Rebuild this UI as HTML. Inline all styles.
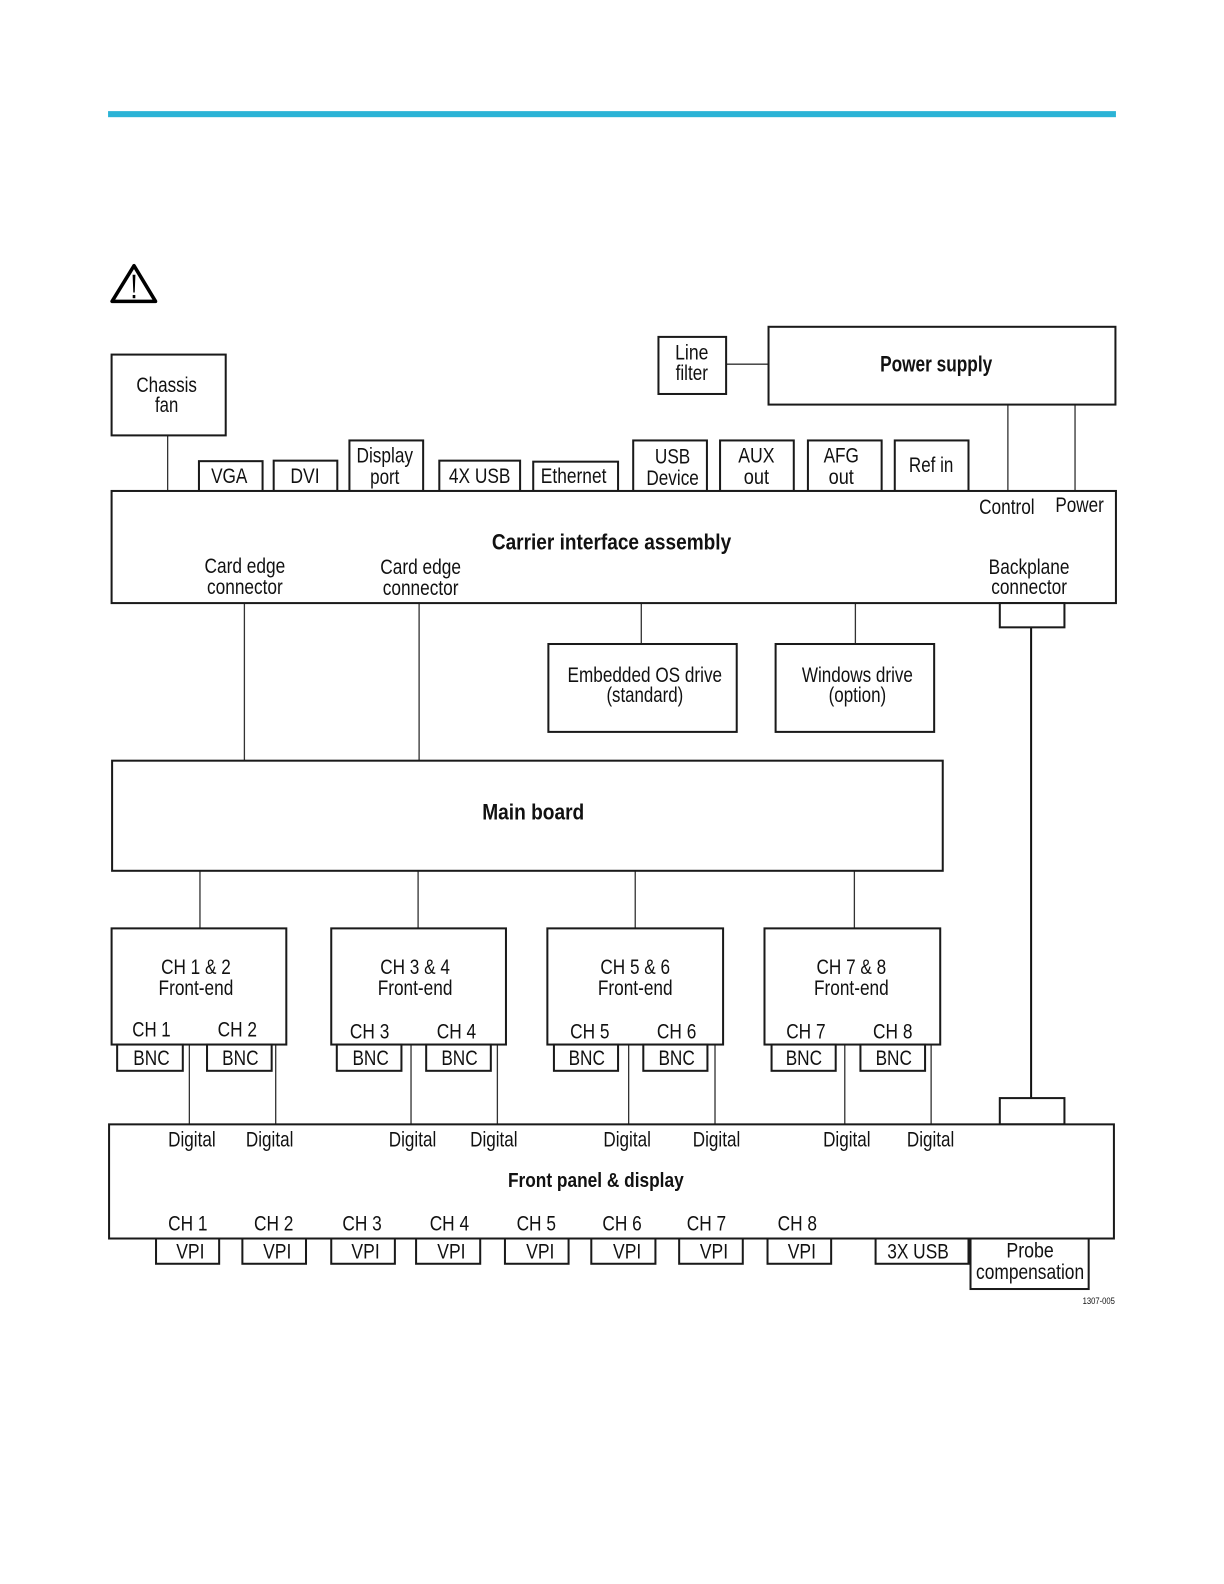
<!DOCTYPE html>
<html>
<head>
<meta charset="utf-8">
<style>
html,body{margin:0;padding:0;background:#fff}
svg{display:block}
text{font-family:"Liberation Sans",sans-serif;font-size:21px;fill:#111;text-anchor:middle}
.b{font-weight:bold;font-size:22px}
rect{fill:#fff;stroke:#1a1a1a;stroke-width:2}
line{stroke:#333;stroke-width:1.3}
</style>
</head>
<body>
<svg width="1224" height="1584" viewBox="0 0 1212 1568" preserveAspectRatio="none" xmlns="http://www.w3.org/2000/svg">
<rect x="107" y="110" width="998" height="6" style="fill:#2bb3d6;stroke:none"/>

<!-- warning icon -->
<polygon points="132.700,263 111,298.300 154,298.300" fill="none" stroke="#000" stroke-width="3.500" stroke-linejoin="round"/>
<polygon points="131.300,272 134.100,272 133.400,289.500 132,289.500" fill="#000"/>
<rect x="131.400" y="292" width="2.600" height="3.200" style="fill:#000;stroke:none"/>

<!-- connectors -->
<line x1="166" y1="431" x2="166" y2="486"/>
<line x1="719" y1="360.500" x2="761" y2="360.500"/>
<line x1="998" y1="400" x2="998" y2="486"/>
<line x1="1064.500" y1="400" x2="1064.500" y2="486"/>
<line x1="242" y1="597" x2="242" y2="753"/>
<line x1="415" y1="597" x2="415" y2="753"/>
<line x1="635" y1="597" x2="635" y2="637"/>
<line x1="847" y1="597" x2="847" y2="637"/>
<line x1="1021" y1="621" x2="1021" y2="1087" style="stroke:#111;stroke-width:2"/>
<line x1="198" y1="862" x2="198" y2="919"/>
<line x1="414" y1="862" x2="414" y2="919"/>
<line x1="629" y1="862" x2="629" y2="919"/>
<line x1="846" y1="862" x2="846" y2="919"/>
<line x1="187.500" y1="1034" x2="187.500" y2="1113"/>
<line x1="273" y1="1034" x2="273" y2="1113"/>
<line x1="407" y1="1034" x2="407" y2="1113"/>
<line x1="492.500" y1="1034" x2="492.500" y2="1113"/>
<line x1="622.500" y1="1034" x2="622.500" y2="1113"/>
<line x1="708" y1="1034" x2="708" y2="1113"/>
<line x1="836.500" y1="1034" x2="836.500" y2="1113"/>
<line x1="922" y1="1034" x2="922" y2="1113"/>

<!-- top boxes -->
<rect x="110.500" y="351" width="113" height="80"/>
<rect x="652" y="333.500" width="67" height="56.500"/>
<rect x="761" y="323.500" width="343.500" height="77"/>
<rect x="197" y="456.500" width="63" height="30"/>
<rect x="271" y="456" width="63" height="30"/>
<rect x="346" y="436" width="73" height="50"/>
<rect x="435" y="456" width="80" height="30"/>
<rect x="528" y="457" width="84" height="29"/>
<rect x="627" y="436" width="73" height="50"/>
<rect x="713" y="436" width="73" height="50"/>
<rect x="800" y="436" width="73" height="50"/>
<rect x="886" y="436" width="73" height="50"/>

<!-- carrier -->
<rect x="110.500" y="486" width="994.500" height="111"/>
<rect x="990" y="597" width="64" height="24"/>
<rect x="543" y="637.500" width="186.500" height="87"/>
<rect x="768" y="637.500" width="157" height="87"/>
<rect x="111" y="753" width="822.500" height="109"/>

<!-- front-ends -->
<rect x="110.500" y="919" width="173" height="115"/>
<rect x="328" y="919" width="173" height="115"/>
<rect x="542" y="919" width="174" height="115"/>
<rect x="757" y="919" width="174" height="115"/>
<rect x="116" y="1034" width="65" height="26"/>
<rect x="205" y="1034" width="64" height="26"/>
<rect x="333.500" y="1034" width="64" height="26"/>
<rect x="422" y="1034" width="64" height="26"/>
<rect x="548.500" y="1034" width="63.500" height="26"/>
<rect x="637" y="1034" width="63.500" height="26"/>
<rect x="764" y="1034" width="63.500" height="26"/>
<rect x="852" y="1034" width="64" height="26"/>

<!-- front panel -->
<rect x="990" y="1087" width="64" height="26"/>
<rect x="108" y="1113" width="995" height="113"/>
<rect x="154.500" y="1226" width="62.500" height="25"/>
<rect x="240" y="1226" width="63" height="25"/>
<rect x="328" y="1226" width="63" height="25"/>
<rect x="412" y="1226" width="63.500" height="25"/>
<rect x="500" y="1226" width="63" height="25"/>
<rect x="585.500" y="1226" width="63.500" height="25"/>
<rect x="672.500" y="1226" width="63" height="25"/>
<rect x="760" y="1226" width="63" height="25"/>
<rect x="867" y="1226" width="92" height="25"/>
<rect x="961" y="1226" width="117" height="50"/>

<!-- labels -->
<g>
<text x="165" y="388" textLength="60" lengthAdjust="spacingAndGlyphs">Chassis</text>
<text x="165" y="408" textLength="23" lengthAdjust="spacingAndGlyphs">fan</text>
<text x="685" y="356" textLength="33" lengthAdjust="spacingAndGlyphs">Line</text>
<text x="685" y="376" textLength="32" lengthAdjust="spacingAndGlyphs">filter</text>
<text class="b" x="927" y="368" textLength="111" lengthAdjust="spacingAndGlyphs">Power supply</text>
<text x="227" y="478" textLength="36" lengthAdjust="spacingAndGlyphs">VGA</text>
<text x="302" y="478" textLength="29" lengthAdjust="spacingAndGlyphs">DVI</text>
<text x="381" y="458" textLength="56" lengthAdjust="spacingAndGlyphs">Display</text>
<text x="381" y="479" textLength="29" lengthAdjust="spacingAndGlyphs">port</text>
<text x="475" y="478" textLength="61" lengthAdjust="spacingAndGlyphs">4X USB</text>
<text x="568" y="478" textLength="65" lengthAdjust="spacingAndGlyphs">Ethernet</text>
<text x="666" y="459" textLength="35" lengthAdjust="spacingAndGlyphs">USB</text>
<text x="666" y="480" textLength="52" lengthAdjust="spacingAndGlyphs">Device</text>
<text x="749" y="458" textLength="36" lengthAdjust="spacingAndGlyphs">AUX</text>
<text x="749" y="479" textLength="25" lengthAdjust="spacingAndGlyphs">out</text>
<text x="833" y="458" textLength="35" lengthAdjust="spacingAndGlyphs">AFG</text>
<text x="833" y="479" textLength="25" lengthAdjust="spacingAndGlyphs">out</text>
<text x="922" y="467" textLength="44" lengthAdjust="spacingAndGlyphs">Ref in</text>
<text x="997" y="509" textLength="55" lengthAdjust="spacingAndGlyphs">Control</text>
<text x="1069" y="507" textLength="48" lengthAdjust="spacingAndGlyphs">Power</text>
<text class="b" x="605.500" y="544" textLength="237" lengthAdjust="spacingAndGlyphs">Carrier interface assembly</text>
<text x="242.500" y="567" textLength="80" lengthAdjust="spacingAndGlyphs">Card edge</text>
<text x="242.500" y="588" textLength="75" lengthAdjust="spacingAndGlyphs">connector</text>
<text x="416.500" y="568" textLength="80" lengthAdjust="spacingAndGlyphs">Card edge</text>
<text x="416.500" y="589" textLength="75" lengthAdjust="spacingAndGlyphs">connector</text>
<text x="1019" y="568" textLength="80" lengthAdjust="spacingAndGlyphs">Backplane</text>
<text x="1019" y="588" textLength="75" lengthAdjust="spacingAndGlyphs">connector</text>
<text x="638.500" y="675" textLength="153" lengthAdjust="spacingAndGlyphs">Embedded OS drive</text>
<text x="638.500" y="695" textLength="76" lengthAdjust="spacingAndGlyphs">(standard)</text>
<text x="849" y="675" textLength="110" lengthAdjust="spacingAndGlyphs">Windows drive</text>
<text x="849" y="695" textLength="57" lengthAdjust="spacingAndGlyphs">(option)</text>
<text class="b" x="528" y="811" textLength="101" lengthAdjust="spacingAndGlyphs">Main board</text>

<text x="194" y="964" textLength="69" lengthAdjust="spacingAndGlyphs">CH 1 &amp; 2</text>
<text x="194" y="985" textLength="74" lengthAdjust="spacingAndGlyphs">Front-end</text>
<text x="411" y="964" textLength="69" lengthAdjust="spacingAndGlyphs">CH 3 &amp; 4</text>
<text x="411" y="985" textLength="74" lengthAdjust="spacingAndGlyphs">Front-end</text>
<text x="629" y="964" textLength="69" lengthAdjust="spacingAndGlyphs">CH 5 &amp; 6</text>
<text x="629" y="985" textLength="74" lengthAdjust="spacingAndGlyphs">Front-end</text>
<text x="843" y="964" textLength="69" lengthAdjust="spacingAndGlyphs">CH 7 &amp; 8</text>
<text x="843" y="985" textLength="74" lengthAdjust="spacingAndGlyphs">Front-end</text>

<text x="150" y="1026" textLength="38" lengthAdjust="spacingAndGlyphs">CH 1</text>
<text x="235" y="1026" textLength="39" lengthAdjust="spacingAndGlyphs">CH 2</text>
<text x="366" y="1028" textLength="39" lengthAdjust="spacingAndGlyphs">CH 3</text>
<text x="452" y="1028" textLength="39" lengthAdjust="spacingAndGlyphs">CH 4</text>
<text x="584" y="1028" textLength="39" lengthAdjust="spacingAndGlyphs">CH 5</text>
<text x="670" y="1028" textLength="39" lengthAdjust="spacingAndGlyphs">CH 6</text>
<text x="798" y="1028" textLength="39" lengthAdjust="spacingAndGlyphs">CH 7</text>
<text x="884" y="1028" textLength="39" lengthAdjust="spacingAndGlyphs">CH 8</text>

<text x="150" y="1054" textLength="36" lengthAdjust="spacingAndGlyphs">BNC</text>
<text x="238" y="1054" textLength="36" lengthAdjust="spacingAndGlyphs">BNC</text>
<text x="367" y="1054" textLength="36" lengthAdjust="spacingAndGlyphs">BNC</text>
<text x="455" y="1054" textLength="36" lengthAdjust="spacingAndGlyphs">BNC</text>
<text x="581" y="1054" textLength="36" lengthAdjust="spacingAndGlyphs">BNC</text>
<text x="670" y="1054" textLength="36" lengthAdjust="spacingAndGlyphs">BNC</text>
<text x="796" y="1054" textLength="36" lengthAdjust="spacingAndGlyphs">BNC</text>
<text x="885" y="1054" textLength="36" lengthAdjust="spacingAndGlyphs">BNC</text>

<text x="190" y="1135" textLength="47" lengthAdjust="spacingAndGlyphs">Digital</text>
<text x="267" y="1135" textLength="47" lengthAdjust="spacingAndGlyphs">Digital</text>
<text x="408.500" y="1135" textLength="47" lengthAdjust="spacingAndGlyphs">Digital</text>
<text x="489" y="1135" textLength="47" lengthAdjust="spacingAndGlyphs">Digital</text>
<text x="621" y="1135" textLength="47" lengthAdjust="spacingAndGlyphs">Digital</text>
<text x="709.500" y="1135" textLength="47" lengthAdjust="spacingAndGlyphs">Digital</text>
<text x="838.500" y="1135" textLength="47" lengthAdjust="spacingAndGlyphs">Digital</text>
<text x="921.500" y="1135" textLength="47" lengthAdjust="spacingAndGlyphs">Digital</text>

<text class="b" x="590" y="1175" style="font-size:20px" textLength="174" lengthAdjust="spacingAndGlyphs">Front panel &amp; display</text>

<text x="186" y="1218" textLength="39" lengthAdjust="spacingAndGlyphs">CH 1</text>
<text x="271" y="1218" textLength="39" lengthAdjust="spacingAndGlyphs">CH 2</text>
<text x="358.500" y="1218" textLength="39" lengthAdjust="spacingAndGlyphs">CH 3</text>
<text x="445" y="1218" textLength="39" lengthAdjust="spacingAndGlyphs">CH 4</text>
<text x="531" y="1218" textLength="39" lengthAdjust="spacingAndGlyphs">CH 5</text>
<text x="616" y="1218" textLength="39" lengthAdjust="spacingAndGlyphs">CH 6</text>
<text x="699.500" y="1218" textLength="39" lengthAdjust="spacingAndGlyphs">CH 7</text>
<text x="789.500" y="1218" textLength="39" lengthAdjust="spacingAndGlyphs">CH 8</text>

<text x="188.500" y="1246" textLength="28" lengthAdjust="spacingAndGlyphs">VPI</text>
<text x="274.500" y="1246" textLength="28" lengthAdjust="spacingAndGlyphs">VPI</text>
<text x="362" y="1246" textLength="28" lengthAdjust="spacingAndGlyphs">VPI</text>
<text x="447" y="1246" textLength="28" lengthAdjust="spacingAndGlyphs">VPI</text>
<text x="535" y="1246" textLength="28" lengthAdjust="spacingAndGlyphs">VPI</text>
<text x="621" y="1246" textLength="28" lengthAdjust="spacingAndGlyphs">VPI</text>
<text x="707" y="1246" textLength="28" lengthAdjust="spacingAndGlyphs">VPI</text>
<text x="794" y="1246" textLength="28" lengthAdjust="spacingAndGlyphs">VPI</text>
<text x="909" y="1246" textLength="61" lengthAdjust="spacingAndGlyphs">3X USB</text>
<text x="1020" y="1245" textLength="47" lengthAdjust="spacingAndGlyphs">Probe</text>
<text x="1020" y="1266" textLength="107" lengthAdjust="spacingAndGlyphs">compensation</text>
<text x="1088" y="1291" style="font-size:9px" textLength="32" lengthAdjust="spacingAndGlyphs">1307-005</text>
</g>
</svg>
</body>
</html>
